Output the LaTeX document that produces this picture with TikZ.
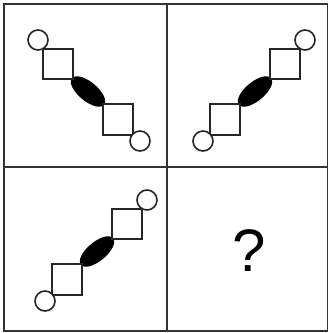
\documentclass[tikz,border=0pt]{standalone}
\usepackage{fontspec}
\setsansfont{Liberation Sans}
\begin{document}
\tikzset{
    frameline/.style={line width=1.8pt, black!80},
    linkbox/.style={draw=black!85, line width=1.6pt, fill=white},
    ring/.style={draw=black!85, line width=1.6pt, fill=white},
    bead/.style={fill=black}
}
\begin{tikzpicture}[x=1pt, y=-1pt]
        \useasboundingbox (0,0) rectangle (329,333);

        % Grid of four panels
        \draw[frameline] (4,4) rectangle (327.5,331);
        \draw[frameline] (167,4) -- (167,331);
        \draw[frameline] (4,167) -- (327.5,167);

        % Chain going down to the right (top left panel), mirrored copies in the others
        \foreach \sx/\dx/\dy in {1/0/0, -1/343/0, -1/185/160} {
            \begin{scope}[shift={(\dx,\dy)}, xscale=\sx]
                \fill[bead, shift={(88,91.5)}, rotate=-39.8] (0,0) ellipse (21 and 9.5);
                \draw[linkbox] (43,49) rectangle (73,79);
                \draw[linkbox] (103,104) rectangle (133,135);
                \draw[ring] (38,40) circle (10);
                \draw[ring] (140,141) circle (10);
            \end{scope}
        }

        % Missing panel
        \node[font=\sffamily\fontsize{60}{60}\selectfont, inner sep=0pt] (query) at (249,251) {?};
\end{tikzpicture}
\end{document}
